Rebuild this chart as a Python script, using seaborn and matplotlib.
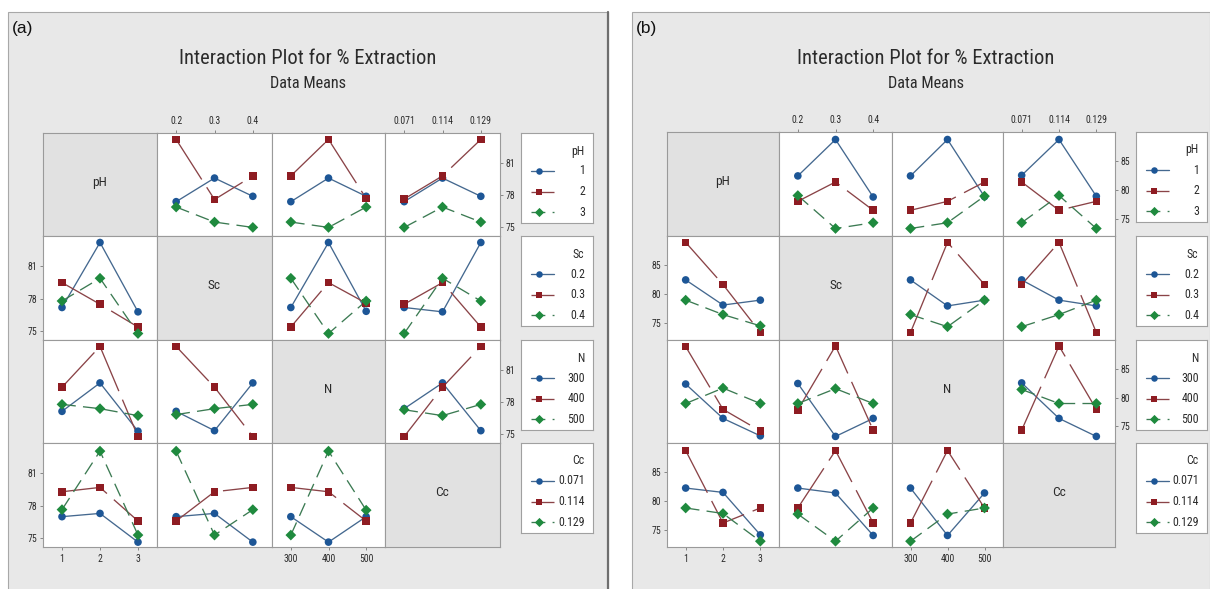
import numpy as np
import pandas as pd
import matplotlib
matplotlib.use("Agg")
import matplotlib.pyplot as plt
from matplotlib.patches import Rectangle
from matplotlib.lines import Line2D
from matplotlib import font_manager
import seaborn as sns

# ---------------------------------------------------------------- factors
factors = ["pH", "Sc", "N", "Cc"]
ph_levels = ["1", "2", "3"]
sc_levels = ["0.2", "0.3", "0.4"]
n_levels = ["300", "400", "500"]
cc_levels = ["0.071", "0.114", "0.129"]

# Mean % extraction. Naming: <panel>_<trace factor>_<x factor>;
# each inner list is one level of the trace factor across the x-factor levels.

# ---- panel (a)
a_ph_sc = [[77.4, 79.6, 77.9], [83.2, 77.6, 79.8], [76.9, 75.5, 75.0]]
a_ph_n = [[77.4, 79.6, 77.9], [79.8, 83.2, 77.7], [75.5, 75.0, 76.9]]
a_ph_cc = [[77.4, 79.6, 77.9], [77.65, 79.8, 83.2], [75.0, 76.9, 75.5]]
a_sc_ph = [[77.2, 83.2, 76.8], [79.5, 77.5, 75.4], [77.8, 79.9, 74.8]]
a_sc_n = [[77.2, 83.2, 76.85], [75.4, 79.5, 77.6], [79.9, 74.8, 77.8]]
a_sc_cc = [[77.2, 76.8, 83.2], [77.5, 79.5, 75.4], [74.8, 79.9, 77.8]]
a_n_ph = [[77.15, 79.8, 75.3], [79.4, 83.2, 74.8], [77.8, 77.4, 76.75]]
a_n_sc = [[77.15, 75.35, 79.8], [83.2, 79.4, 74.8], [76.85, 77.4, 77.8]]
a_n_cc = [[77.4, 79.8, 75.35], [74.8, 79.4, 83.2], [77.3, 76.75, 77.8]]
a_cc_ph = [[77.0, 77.3, 74.65], [79.3, 79.7, 76.6], [77.65, 83.05, 75.3]]
a_cc_sc = [[77.0, 77.3, 74.65], [76.6, 79.3, 79.7], [83.05, 75.3, 77.65]]
a_cc_n = [[77.0, 74.65, 77.0], [79.7, 79.3, 76.6], [75.3, 83.05, 77.6]]

# ---- panel (b)
b_ph_sc = [[82.5, 88.8, 78.85], [78.1, 81.45, 76.55], [79.1, 73.4, 74.4]]
b_ph_n = [[82.5, 88.8, 78.9], [76.55, 78.1, 81.45], [73.4, 74.4, 79.0]]
b_ph_cc = [[82.6, 88.8, 78.97], [81.45, 76.55, 78.1], [74.4, 79.1, 73.4]]
b_sc_ph = [[82.5, 78.15, 79.0], [89.0, 81.7, 73.4], [79.0, 76.5, 74.55]]
b_sc_n = [[82.5, 78.0, 79.0], [73.4, 89.0, 81.7], [76.5, 74.4, 79.0]]
b_sc_cc = [[82.5, 79.0, 78.0], [81.7, 89.0, 73.4], [74.4, 76.5, 79.0]]
b_n_ph = [[82.4, 76.4, 73.35], [88.95, 77.98, 74.2], [79.0, 81.7, 79.0]]
b_n_sc = [[82.5, 73.25, 76.4], [77.9, 89.06, 74.35], [79.0, 81.6, 79.0]]
b_n_cc = [[82.6, 76.4, 73.25], [74.35, 89.06, 77.98], [81.45, 79.0, 79.0]]
b_cc_ph = [[82.3, 81.55, 74.2], [88.8, 76.25, 78.85], [78.85, 77.9, 73.1]]
b_cc_sc = [[82.3, 81.45, 74.1], [78.85, 88.8, 76.25], [77.8, 73.1, 78.85]]
b_cc_n = [[82.3, 74.1, 81.45], [76.25, 88.8, 78.85], [73.1, 77.8, 78.85]]

a_yticks = [75, 78, 81]
b_yticks = [75, 80, 85]

# ---------------------------------------------------------------- fonts
W, H = 1210, 589
sns.set_theme(style="white")

ttf = font_manager.fontManager.ttflist
names = {f.name for f in ttf}
font_family, font_stretch = "Liberation Sans", "normal"
for cand in ["Liberation Sans Narrow", "Roboto Condensed", "Noto Sans Condensed",
             "Open Sans Condensed", "DejaVu Sans Condensed"]:
    if cand in names:
        font_family = cand
        break
else:
    for fam in ["Roboto", "Noto Sans", "Open Sans", "DejaVu Sans"]:
        hits = [f for f in ttf if f.name == fam and str(f.stretch).lower() == "condensed"
                and f.style == "normal"]
        if hits:
            font_family, font_stretch = fam, "condensed"
            break

plt.rcParams["font.family"] = [font_family, "DejaVu Sans"]
plt.rcParams["font.stretch"] = font_stretch

line_colors = ["#44688f", "#8a4347", "#3b7a52"]
marker_colors = ["#1d5696", "#8e1c22", "#1f8a3e"]
marker_shapes = ["o", "s", "D"]
LW = 0.95
dash_specs = ["", (36, 7), (10.5, 5.5)]
PANEL_BG = "#e8e8e8"
DIAG_BG = "#e1e1e1"
EDGE = "#9a9a9a"
TEXT = "#2b2b2b"

levels = [ph_levels, sc_levels, n_levels, cc_levels]

panels = [
    dict(x0=8, x1=608, label="(a)", label_x=12, title_cx=308,
         gx=[43, 157, 272, 385, 500], gy=[133, 236, 340, 443, 547],
         leg_x=(521, 593), ylim=(74.2, 83.8), yticks=a_yticks,
         cells={(0, 1): a_ph_sc, (0, 2): a_ph_n, (0, 3): a_ph_cc,
                (1, 0): a_sc_ph, (1, 2): a_sc_n, (1, 3): a_sc_cc,
                (2, 0): a_n_ph, (2, 1): a_n_sc, (2, 3): a_n_cc,
                (3, 0): a_cc_ph, (3, 1): a_cc_sc, (3, 2): a_cc_n}),
    dict(x0=632, x1=1210, label="(b)", label_x=636, title_cx=926,
         gx=[667, 779, 892, 1003, 1115], gy=[132, 236, 340, 443, 547],
         leg_x=(1136, 1207), ylim=(72.1, 90.1), yticks=b_yticks,
         cells={(0, 1): b_ph_sc, (0, 2): b_ph_n, (0, 3): b_ph_cc,
                (1, 0): b_sc_ph, (1, 2): b_sc_n, (1, 3): b_sc_cc,
                (2, 0): b_n_ph, (2, 1): b_n_sc, (2, 3): b_n_cc,
                (3, 0): b_cc_ph, (3, 1): b_cc_sc, (3, 2): b_cc_n}),
]

fig = plt.figure(figsize=(W / 100, H / 100), dpi=100)
fig.patch.set_facecolor("white")
renderer = fig.canvas.get_renderer()


def fx(x):
    return x / W


def fy(y):
    return 1 - y / H


def add_axes_px(x0, y0, x1, y1):
    return fig.add_axes([fx(x0), fy(y1), fx(x1) - fx(x0), fy(y0) - fy(y1)])


def frame_px(x0, y0, x1, y1, fc, ec, lw, z=-5):
    fig.add_artist(Rectangle((fx(x0), fy(y1)), fx(x1) - fx(x0), fy(y0) - fy(y1),
                             transform=fig.transFigure, facecolor=fc,
                             edgecolor=ec, linewidth=lw, zorder=z))


def fitted_text(x, y, s, width_px, size, **kw):
    """Figure text whose font size is tuned so the string spans width_px."""
    t = fig.text(fx(x), fy(y), s, fontsize=size, **kw)
    w = t.get_window_extent(renderer).width
    t.set_fontsize(size * width_px / w)
    return t


# how much the chosen face must shrink to reach the narrow title width
probe = fig.text(0, 0, "Interaction Plot for % Extraction", fontsize=16)
K = min(1.0, 256 / probe.get_window_extent(renderer).width)
probe.remove()
TICK_FS = 7.6 * K
LEG_FS = 9.3 * K
DIAG_FS = 10.5 * K


def draw_cell(ax, vals, trace_levels, ylim):
    df = pd.DataFrame({
        "pos": np.tile([0, 1, 2], 3),
        "value": np.ravel(vals),
        "level": np.repeat(trace_levels, 3),
    })
    sns.lineplot(data=df, x="pos", y="value", hue="level", style="level",
                 hue_order=trace_levels, style_order=trace_levels,
                 palette=line_colors, dashes=dash_specs, linewidth=LW,
                 estimator=None, sort=False, legend=False, ax=ax)
    sns.scatterplot(data=df, x="pos", y="value", hue="level", style="level",
                    hue_order=trace_levels, style_order=trace_levels,
                    palette=marker_colors, markers=marker_shapes, s=30,
                    linewidth=0, legend=False, ax=ax, zorder=4)
    ax.set_xlim(-0.5, 2.5)
    ax.set_ylim(*ylim)


for p in panels:
    # panel background
    frame_px(p["x0"], 12, p["x1"], H + 2, PANEL_BG, "#a8a8a8", 0.8, z=-10)
    fig.text(fx(p["label_x"]), fy(28), p["label"], fontsize=12.5, color="#111111",
             family=["Liberation Sans", "DejaVu Sans"], stretch="normal",
             ha="left", va="center")
    fitted_text(p["title_cx"], 58, "Interaction Plot for % Extraction", 256, 16,
                color=TEXT, ha="center", va="center")
    fitted_text(p["title_cx"], 83, "Data Means", 77, 12.5,
                color=TEXT, ha="center", va="center")

    gx, gy = p["gx"], p["gy"]
    for r in range(4):
        for c in range(4):
            ax = add_axes_px(gx[c], gy[r], gx[c + 1], gy[r + 1])
            for s in ax.spines.values():
                s.set_color(EDGE)
                s.set_linewidth(0.8)
            if r == c:
                ax.set_facecolor(DIAG_BG)
                ax.text(0.5, 0.52, factors[r], transform=ax.transAxes,
                        ha="center", va="center", fontsize=DIAG_FS, color=TEXT)
                ax.set_xticks([])
                ax.set_yticks([])
                continue
            ax.set_facecolor("white")
            draw_cell(ax, p["cells"][(r, c)], levels[r], p["ylim"])
            ax.set_xlabel("")
            ax.set_ylabel("")
            ax.set_xticks([0, 1, 2])
            ax.set_yticks(p["yticks"])
            show_bottom = (r == 3 and c in (0, 2))
            show_top = (r == 0 and c in (1, 3))
            show_left = (c == 0 and r in (1, 3))
            show_right = (c == 3 and r in (0, 2))
            if show_top or show_bottom:
                ax.set_xticklabels(levels[c])
            if show_left or show_right:
                ax.set_yticklabels([str(v) for v in p["yticks"]])
            ax.tick_params(axis="x", bottom=show_bottom, labelbottom=show_bottom,
                           top=show_top, labeltop=show_top, direction="out",
                           length=2, width=0.6, color="#777777",
                           labelsize=TICK_FS, labelcolor=TEXT, pad=3)
            ax.tick_params(axis="y", left=show_left, labelleft=show_left,
                           right=show_right, labelright=show_right,
                           direction="out", length=2, width=0.6, color="#777777",
                           labelsize=TICK_FS, labelcolor=TEXT, pad=2)

        # legend box for the trace factor of this row
        lx0, lx1 = p["leg_x"]
        lax = add_axes_px(lx0, gy[r], lx1, gy[r] + 90)
        bw = lx1 - lx0
        lax.set_xlim(0, bw)
        lax.set_ylim(90, 0)
        lax.set_xticks([])
        lax.set_yticks([])
        lax.set_facecolor("white")
        for s in lax.spines.values():
            s.set_color("#a0a0a0")
            s.set_linewidth(0.8)
        lax.text(bw - 9, 18, factors[r], ha="right", va="center",
                 fontsize=LEG_FS, color=TEXT)
        for k, lev in enumerate(levels[r]):
            yy = 38 + 20.7 * k
            sample = Line2D([10, 33], [yy, yy], color=line_colors[k], linewidth=LW)
            if dash_specs[k]:
                sample.set_dashes(dash_specs[k])
            lax.add_line(sample)
            lax.scatter([18], [yy], marker=marker_shapes[k], s=22,
                        color=marker_colors[k], linewidth=0, zorder=3)
            lax.text(bw - 8, yy, lev, ha="right", va="center",
                     fontsize=LEG_FS, color=TEXT)

# dark separator on the right edge of panel (a)
fig.add_artist(Line2D([fx(608), fx(608)], [fy(12), 0], transform=fig.transFigure,
                      color="#6e6e6e", linewidth=1.6, zorder=-4))

fig.savefig("out.png", dpi=100, facecolor="white")
